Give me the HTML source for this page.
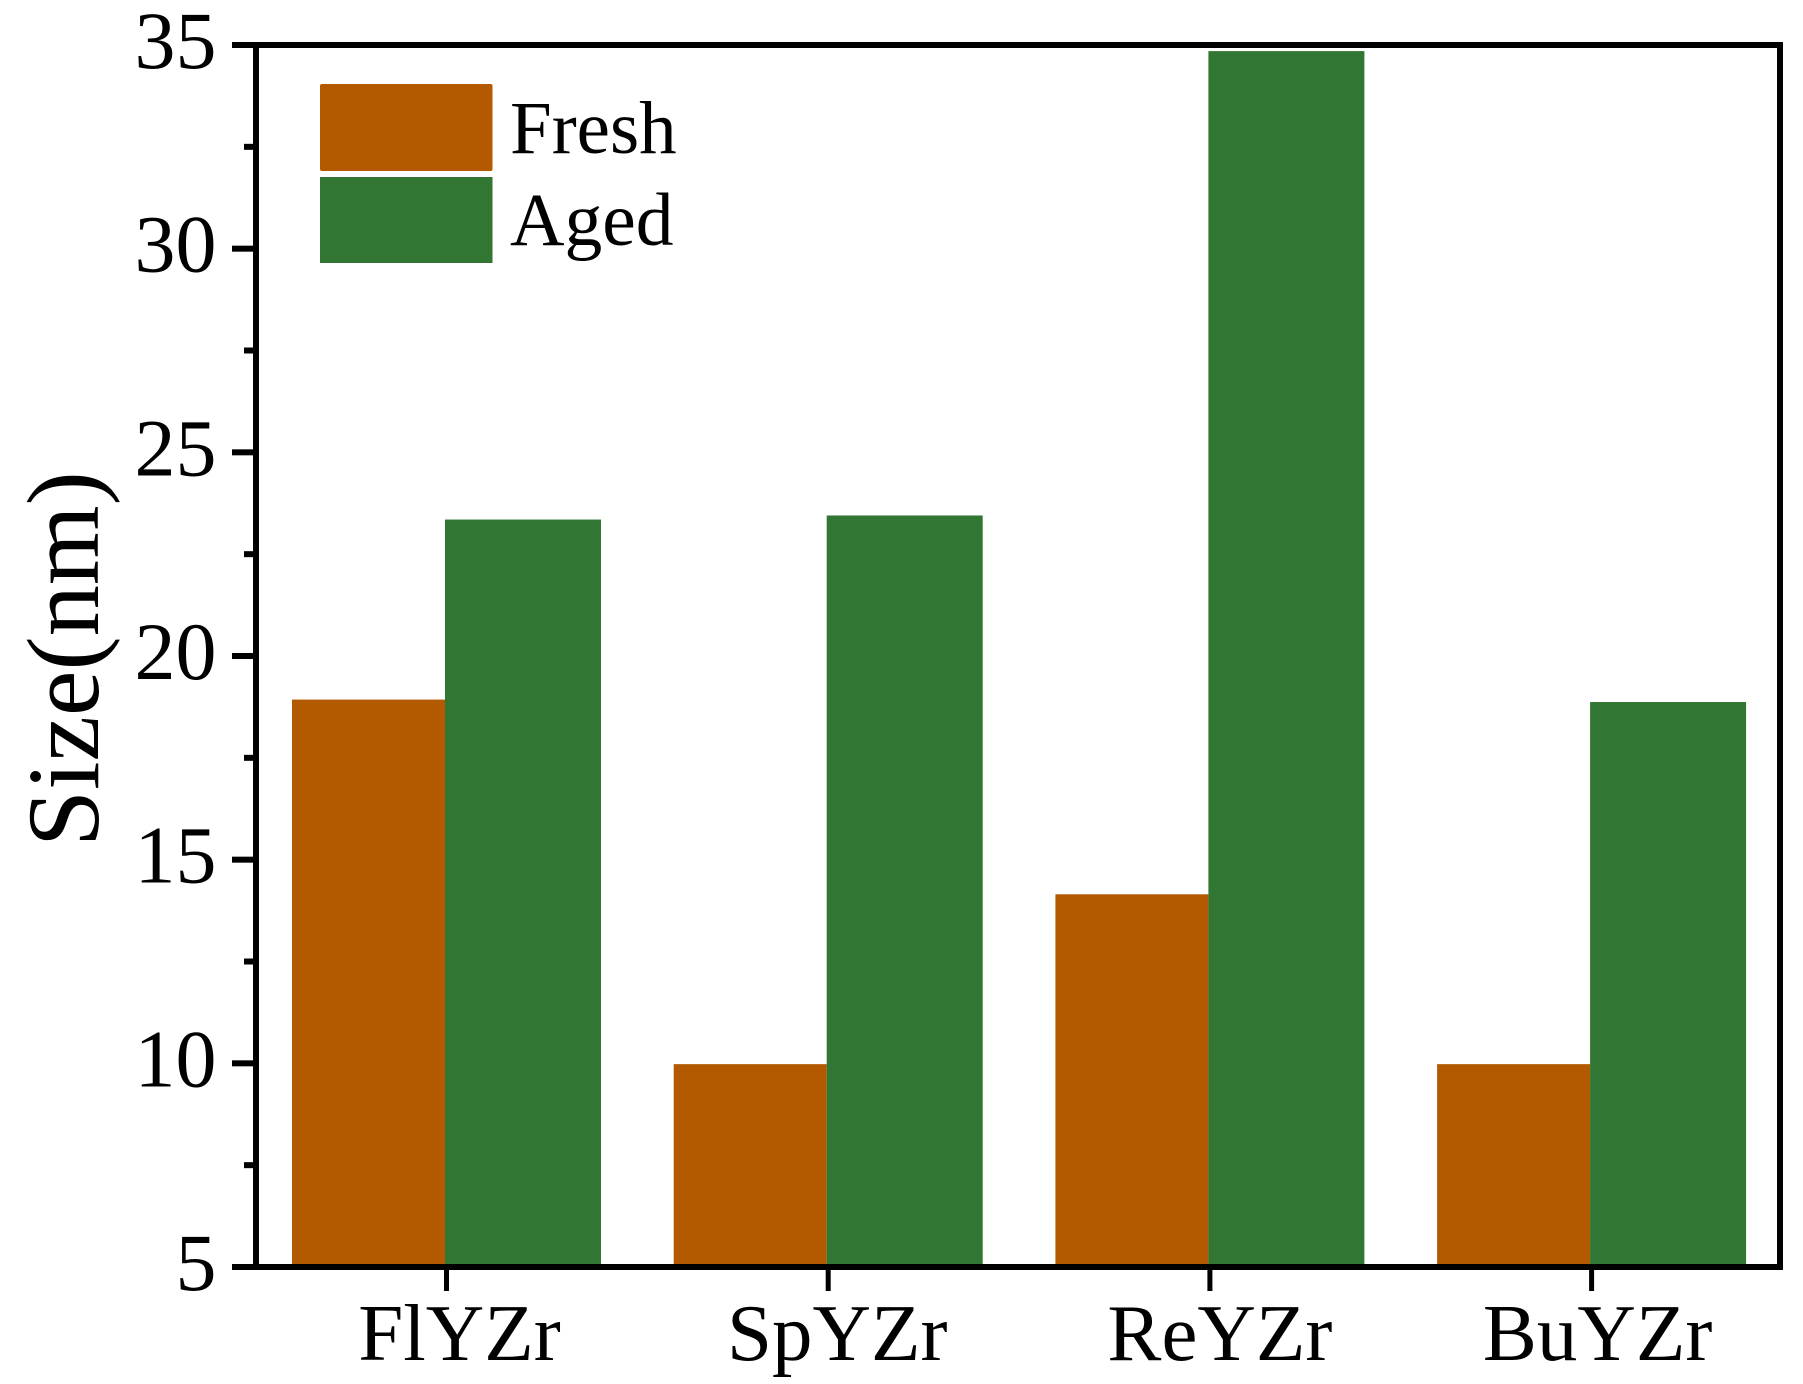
<!DOCTYPE html>
<html lang="en">
<head>
<meta charset="utf-8">
<title>Size bar chart</title>
<style>
  html, body { margin: 0; padding: 0; background: #fff; }
  body { width: 1803px; height: 1384px; overflow: hidden; }
  svg { display: block; }
  text { font-family: "Liberation Serif", "DejaVu Serif", serif; fill: #000; }
</style>
</head>
<body>
<svg id="chart" xmlns="http://www.w3.org/2000/svg" width="1803" height="1384" viewBox="0 0 1803 1384">
  <rect x="0" y="0" width="1803" height="1384" fill="#ffffff"/>
  <g id="bars"></g>
  <g id="axes"></g>
  <text transform="translate(98,847) rotate(-90)" font-size="102.500">Size(nm)</text>
  <g>
    <rect x="320" y="84" width="172.500" height="87" rx="2" fill="#b35900"/>
    <text x="510" y="153" font-size="75">Fresh</text>
    <rect x="320" y="177" width="172.500" height="86" fill="#317633"/>
    <text x="510" y="245" font-size="75.500">Aged</text>
  </g>
</svg>
<script>
const categories = ['FlYZr', 'SpYZr', 'ReYZr', 'BuYZr'];
const freshValues = [18.93, 9.98, 14.15, 9.98];
const agedValues = [23.35, 23.45, 34.85, 18.87];
const yTickLabels = ['5', '10', '15', '20', '25', '30', '35'];
const yMinorTicks = [7.5, 12.5, 17.5, 22.5, 27.5, 32.5];

const SVG_NS = 'http://www.w3.org/2000/svg';
const plotLeft = 256, plotRight = 1780, plotTop = 45, plotBottom = 1267;
const yMin = 5, yMax = 35;
const groupStart = 445, groupStep = 381.7;
const freshWidth = 153, agedWidth = 156;
const labelNudge = [13, 9, 10, 6];

function yScale(v) {
  return plotBottom - (v - yMin) / (yMax - yMin) * (plotBottom - plotTop);
}
function xScale(i) {
  return groupStart + i * groupStep;
}
function make(tag, attrs, parent) {
  const el = document.createElementNS(SVG_NS, tag);
  Object.keys(attrs).forEach(function (k) { el.setAttribute(k, attrs[k]); });
  parent.appendChild(el);
  return el;
}

const barsGroup = document.getElementById('bars');
const axesGroup = document.getElementById('axes');

categories.forEach(function (cat, i) {
  const x = xScale(i);
  const freshBar = make('rect', {
    x: x - freshWidth,
    y: yScale(freshValues[i]),
    width: freshWidth,
    height: plotBottom - yScale(freshValues[i]),
    fill: '#b35900'
  }, barsGroup);
  
  

  const agedBar = make('rect', {
    x: x,
    y: yScale(agedValues[i]),
    width: agedWidth,
    height: plotBottom - yScale(agedValues[i]),
    fill: '#317633'
  }, barsGroup);
  
  

  const tick = make('rect', {
    x: x - 1,
    y: plotBottom,
    width: 5,
    height: 24,
    fill: '#000'
  }, axesGroup);
  
  

  const label = make('text', {
    x: x + 1.5 + labelNudge[i],
    y: 1360,
    'font-size': 81,
    'text-anchor': 'middle'
  }, axesGroup);
  label.textContent = cat;
  
  
});

yTickLabels.forEach(function (t) {
  const v = Number(t);
  const tick = make('rect', {
    x: 232,
    y: yScale(v) - 3,
    width: 24,
    height: 6,
    fill: '#000'
  }, axesGroup);
  
  

  const label = make('text', {
    x: 216.5,
    y: yScale(v) + 23,
    'font-size': 82,
    'text-anchor': 'end'
  }, axesGroup);
  label.textContent = t;
  
  
});

yMinorTicks.forEach(function (v) {
  const tick = make('rect', {
    x: 244,
    y: yScale(v) - 3,
    width: 12,
    height: 6,
    fill: '#000'
  }, axesGroup);
  
  
});

const frame = make('rect', {
  x: plotLeft,
  y: plotTop,
  width: plotRight - plotLeft,
  height: plotBottom - plotTop,
  fill: 'none',
  stroke: '#000',
  'stroke-width': 6
}, axesGroup);


</script>
</body>
</html>
